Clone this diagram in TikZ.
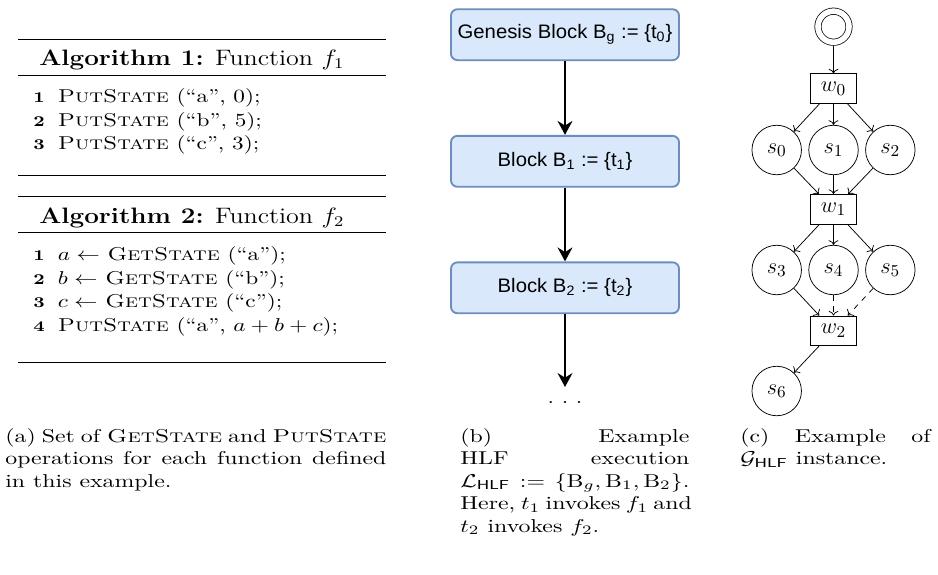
\documentclass[tikz,border=0pt]{standalone}
\usepackage{fontspec}
\usepackage{amsmath}
\newfontfamily\blockfont{Liberation Sans}
\usetikzlibrary{arrows.meta}
\definecolor{blockfill}{HTML}{DAE8FC}
\definecolor{blockstroke}{HTML}{6C8EBF}
\newcommand{\widetxt}[1]{\scalebox{1.28}[1]{#1}}
\newcommand{\widealg}[1]{\scalebox{1.25}[1]{#1}}
\newcommand{\widehead}[1]{\scalebox{1.166}[1]{#1}}
\newcommand{\wideblock}[1]{\scalebox{1.04}[1]{#1}}
\tikzset{
  algrule/.style={line width=0.8pt},
  algtxt/.style={anchor=base west, inner sep=0pt, font=\fontsize{10}{12}\selectfont},
  alghead/.style={anchor=base west, inner sep=0pt, font=\fontsize{12}{14}\selectfont},
  lnum/.style={anchor=base west, inner sep=0pt, font=\footnotesize\bfseries},
  capline/.style={anchor=base west, inner sep=0pt, font=\fontsize{10}{12}\selectfont},
  blockbox/.style={draw=blockstroke, fill=blockfill, line width=1pt, rounded corners=3.5pt,
    minimum width=122.6pt, minimum height=27.4pt, inner sep=0pt, font=\blockfont\fontsize{10.5}{12}\selectfont},
  chainarrow/.style={line width=1.1pt, -{Stealth[length=7.5pt,width=8pt,inset=2.5pt]}},
  state/.style={circle, draw, minimum size=26.6pt, inner sep=0pt, font=\fontsize{13}{15}\selectfont},
  wbox/.style={rectangle, draw, minimum width=24.7pt, minimum height=16pt, inner sep=0pt, font=\fontsize{13}{15}\selectfont},
  startnode/.style={circle, draw, double, double distance=3pt, minimum size=16.7pt, inner sep=0pt, outer sep=1.9pt},
  gedge/.style={->},
}
\begin{document}
\begin{tikzpicture}[x=0.5376pt, y=-0.5376pt]
\useasboundingbox (0,0) rectangle (938,574);

% ---------- (a) Algorithm 1 ----------
\draw[algrule] (18,39.5) -- (386,39.5);
\node[alghead] (a1h) at (39,65) {\widehead{\textbf{Algorithm 1:} Function $f_1$}};
\draw[algrule] (18,75.5) -- (386,75.5);
\node[lnum] (a1n1) at (33,102.7) {\widealg{1}};
\node[algtxt] (a1l1) at (57.5,102.7) {\widealg{\textsc{PutState} (``a'', 0);}};
\node[lnum] (a1n2) at (33,126) {\widealg{2}};
\node[algtxt] (a1l2) at (57.5,126) {\widealg{\textsc{PutState} (``b'', 5);}};
\node[lnum] (a1n3) at (33,149.3) {\widealg{3}};
\node[algtxt] (a1l3) at (57.5,149.3) {\widealg{\textsc{PutState} (``c'', 3);}};
\draw[algrule] (18,175.7) -- (386,175.7);

% ---------- (a) Algorithm 2 ----------
\draw[algrule] (18,196.7) -- (386,196.7);
\node[alghead] (a2h) at (39,223.3) {\widehead{\textbf{Algorithm 2:} Function $f_2$}};
\draw[algrule] (18,232.7) -- (386,232.7);
\node[lnum] (a2n1) at (33,260.7) {\widealg{1}};
\node[algtxt] (a2l1) at (57.5,260.7) {\widealg{$a \leftarrow$ \textsc{GetState} (``a'');}};
\node[lnum] (a2n2) at (33,284.3) {\widealg{2}};
\node[algtxt] (a2l2) at (57.5,284.3) {\widealg{$b \leftarrow$ \textsc{GetState} (``b'');}};
\node[lnum] (a2n3) at (33,307.7) {\widealg{3}};
\node[algtxt] (a2l3) at (57.5,307.7) {\widealg{$c \leftarrow$ \textsc{GetState} (``c'');}};
\node[lnum] (a2n4) at (33,331) {\widealg{4}};
\node[algtxt] (a2l4) at (57.5,331) {\widealg{\textsc{PutState} (``a'', $a+b+c$);}};
\draw[algrule] (18,362.7) -- (386,362.7);

% ---------- (b) blockchain ----------
\node[blockbox] (bg) at (565,34.7) {\wideblock{Genesis Block B\textsubscript{g} := \{t\textsubscript{0}\}}};
\node[blockbox] (b1) at (565,161.3) {\wideblock{Block B\textsubscript{1} := \{t\textsubscript{1}\}}};
\node[blockbox] (b2) at (565,287.8) {\wideblock{Block B\textsubscript{2} := \{t\textsubscript{2}\}}};
\coordinate (bend) at (565,387);
\node[inner sep=0pt, font=\fontsize{10}{12}\selectfont] (dots) at (565,403) {\widealg{.\ .\ .}};
\draw[chainarrow] (bg) -- (b1);
\draw[chainarrow] (b1) -- (b2);
\draw[chainarrow] (b2) -- (bend);

% ---------- (c) graph ----------
\node[startnode] (st) at (833.5,26.7) {};
\node[wbox] (w0) at (833.5,88.7) {$w_0$};
\node[state] (s0) at (776.7,150) {$s_0$};
\node[state] (s1) at (833.5,150) {$s_1$};
\node[state] (s2) at (890.3,150) {$s_2$};
\node[wbox] (w1) at (833.5,209.3) {$w_1$};
\node[state] (s3) at (776.7,270) {$s_3$};
\node[state] (s4) at (833.5,270) {$s_4$};
\node[state] (s5) at (890.3,270) {$s_5$};
\node[wbox] (w2) at (833.5,330.8) {$w_2$};
\node[state] (s6) at (776.7,391) {$s_6$};
\draw[gedge] (st) -- (w0);
\draw[gedge] (w0) -- (s0);
\draw[gedge] (w0) -- (s1);
\draw[gedge] (w0) -- (s2);
\draw[gedge] (s0) -- (w1);
\draw[gedge] (s1) -- (w1);
\draw[gedge] (s2) -- (w1);
\draw[gedge] (w1) -- (s3);
\draw[gedge] (w1) -- (s4);
\draw[gedge] (w1) -- (s5);
\draw[gedge] (s3) -- (w2);
\draw[gedge, dashed] (s4) -- (w2);
\draw[gedge, dashed] (s5) -- (w2);
\draw[gedge] (w2) -- (s6);

% ---------- captions ----------
\node[capline] (ca1) at (5,442) {\widetxt{\makebox[160pt][s]{(a) Set of \textsc{GetState} and \textsc{PutState}}}};
\node[capline] (ca2) at (5,464.5) {\widetxt{\makebox[160pt][s]{operations for each function defined}}};
\node[capline] (ca3) at (5,487) {\widetxt{in this example.}};

\node[capline] (cb1) at (460,442) {\widetxt{\makebox[96.2pt][s]{(b) Example}}};
\node[capline] (cb2) at (460,464.5) {\widetxt{\makebox[96.2pt][s]{HLF execution}}};
\node[capline] (cb3) at (460,487) {\widetxt{\makebox[96.2pt][s]{$\mathcal{L}_{\mathsf{HLF}}$ $:=$ $\{\mathrm{B}_g, \mathrm{B}_1, \mathrm{B}_2\}$.}}};
\node[capline] (cb4) at (460,509.5) {\widetxt{\makebox[96.2pt][s]{Here, $t_1$ invokes $f_1$ and}}};
\node[capline] (cb5) at (460,532) {\widetxt{$t_2$ invokes $f_2$.}};

\node[capline] (cc1) at (740,442) {\widetxt{\makebox[79.9pt][s]{(c) Example of}}};
\node[capline] (cc2) at (740,464.5) {\widetxt{$\mathcal{G}_{\mathsf{HLF}}$ instance.}};
\end{tikzpicture}
\end{document}
